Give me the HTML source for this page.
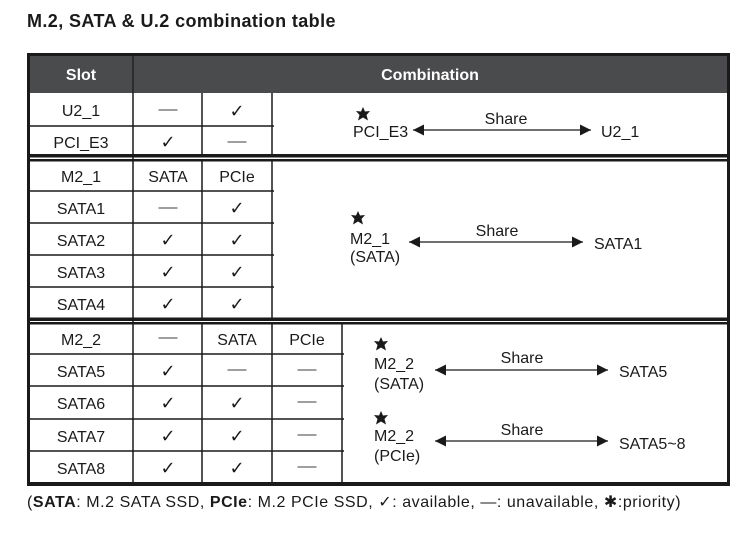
<!DOCTYPE html>
<html><head><meta charset="utf-8"><style>
html,body{margin:0;padding:0;background:#fff;width:738px;height:533px;overflow:hidden}
svg{display:block}
text{font-family:"Liberation Sans","DejaVu Sans",sans-serif;fill:#1a1a1a}
</style></head><body>
<svg width="738" height="533" viewBox="0 0 738 533" xmlns="http://www.w3.org/2000/svg">
<defs>
<marker id="ah" viewBox="0 0 10 10" refX="10" refY="5" markerWidth="17" markerHeight="11" markerUnits="userSpaceOnUse" orient="auto-start-reverse"><path d="M0,0 L10,5 L0,10 z" fill="#1a1a1a"/></marker>
<g id="dash"><line x1="-9.5" y1="0" x2="9.5" y2="0" stroke="#666" stroke-width="1.2"/></g>
<path id="star" d="M0,-7 L2,-2.5 L7,-3 L3.5,1 L5,6.5 L0,3.5 L-5,6.5 L-3.5,1 L-7,-3 L-2,-2.5 z" fill="#1a1a1a"/>
</defs>
<text x="27" y="27" font-size="18" font-weight="bold" letter-spacing="0.4">M.2, SATA &amp; U.2 combination table</text>
<rect x="27" y="53" width="703" height="40" fill="#4a4b4d"/>
<rect x="27" y="53" width="703" height="3" fill="#1a1a1a"/>
<line x1="133" y1="56" x2="133" y2="93" stroke="#222" stroke-width="1.5"/>
<text x="81" y="80" font-size="16" font-weight="bold" style="fill:#fff" text-anchor="middle">Slot</text>
<text x="430" y="80" font-size="16" font-weight="bold" style="fill:#fff" text-anchor="middle">Combination</text>
<rect x="27" y="53" width="3" height="433" fill="#1a1a1a"/>
<rect x="727" y="53" width="3" height="433" fill="#1a1a1a"/>
<rect x="27" y="482" width="703" height="4" fill="#1a1a1a"/>
<rect x="27" y="154" width="703" height="3.5" fill="#1a1a1a"/>
<rect x="27" y="159" width="703" height="2.5" fill="#1a1a1a"/>
<rect x="27" y="317.5" width="703" height="3.5" fill="#1a1a1a"/>
<rect x="27" y="322" width="703" height="2.5" fill="#1a1a1a"/>
<g stroke="#1a1a1a" stroke-width="1.5">
<line x1="133" y1="93" x2="133" y2="483"/>
<line x1="202" y1="93" x2="202" y2="155"/><line x1="272" y1="93" x2="272" y2="155"/>
<line x1="202" y1="161" x2="202" y2="318"/><line x1="272" y1="161" x2="272" y2="318"/>
<line x1="202" y1="324" x2="202" y2="483"/><line x1="272" y1="324" x2="272" y2="483"/><line x1="342" y1="324" x2="342" y2="483"/>
<line x1="30" y1="126" x2="274" y2="126"/>
<line x1="30" y1="191" x2="274" y2="191"/><line x1="30" y1="223" x2="274" y2="223"/><line x1="30" y1="255" x2="274" y2="255"/><line x1="30" y1="287" x2="274" y2="287"/>
<line x1="30" y1="354" x2="344" y2="354"/><line x1="30" y1="386" x2="344" y2="386"/><line x1="30" y1="419" x2="344" y2="419"/><line x1="30" y1="451" x2="344" y2="451"/>
</g>
<g font-size="16" text-anchor="middle">
<text x="81" y="116">U2_1</text><text x="81" y="148">PCI_E3</text>
<text x="81" y="182">M2_1</text><text x="168" y="182">SATA</text><text x="237" y="182">PCIe</text>
<text x="81" y="214">SATA1</text><text x="81" y="246">SATA2</text><text x="81" y="278">SATA3</text><text x="81" y="310">SATA4</text>
<text x="81" y="345">M2_2</text><text x="237" y="345">SATA</text><text x="307" y="345">PCIe</text>
<text x="81" y="377">SATA5</text><text x="81" y="409">SATA6</text><text x="81" y="442">SATA7</text><text x="81" y="474">SATA8</text>
</g>
<g font-size="18" text-anchor="middle" font-family="DejaVu Sans">
<text x="237" y="117">✓</text><text x="168" y="148">✓</text>
<text x="237" y="214">✓</text>
<text x="168" y="246">✓</text><text x="237" y="246">✓</text>
<text x="168" y="278">✓</text><text x="237" y="278">✓</text>
<text x="168" y="310">✓</text><text x="237" y="310">✓</text>
<text x="168" y="377">✓</text>
<text x="168" y="409">✓</text><text x="237" y="409">✓</text>
<text x="168" y="442">✓</text><text x="237" y="442">✓</text>
<text x="168" y="474">✓</text><text x="237" y="474">✓</text>
</g>
<use href="#dash" x="168" y="110"/><use href="#dash" x="237" y="142"/>
<use href="#dash" x="168" y="208"/>
<use href="#dash" x="168" y="338"/>
<use href="#dash" x="237" y="370"/><use href="#dash" x="307" y="370"/>
<use href="#dash" x="307" y="402"/><use href="#dash" x="307" y="435"/><use href="#dash" x="307" y="467"/>
<g font-size="16">
<use href="#star" x="363" y="114"/>
<text x="353" y="137">PCI_E3</text>
<text x="506" y="124" text-anchor="middle">Share</text>
<text x="601" y="137">U2_1</text>
<use href="#star" x="358" y="218"/>
<text x="350" y="244">M2_1</text><text x="350" y="262">(SATA)</text>
<text x="497" y="236" text-anchor="middle">Share</text>
<text x="594" y="249">SATA1</text>
<use href="#star" x="381" y="344"/>
<text x="374" y="369">M2_2</text><text x="374" y="389">(SATA)</text>
<text x="522" y="363" text-anchor="middle">Share</text>
<text x="619" y="377">SATA5</text>
<use href="#star" x="381" y="418"/>
<text x="374" y="441">M2_2</text><text x="374" y="461">(PCIe)</text>
<text x="522" y="435" text-anchor="middle">Share</text>
<text x="619" y="449">SATA5~8</text>
</g>
<g stroke="#1a1a1a" stroke-width="1.3">
<line x1="413" y1="130" x2="591" y2="130" marker-start="url(#ah)" marker-end="url(#ah)"/>
<line x1="409" y1="242" x2="583" y2="242" marker-start="url(#ah)" marker-end="url(#ah)"/>
<line x1="435" y1="370" x2="608" y2="370" marker-start="url(#ah)" marker-end="url(#ah)"/>
<line x1="435" y1="441" x2="608" y2="441" marker-start="url(#ah)" marker-end="url(#ah)"/>
</g>
<text x="27" y="507" font-size="16" letter-spacing="0.55">(<tspan font-weight="bold">SATA</tspan>: M.2 SATA SSD, <tspan font-weight="bold">PCIe</tspan>: M.2 PCIe SSD, <tspan font-family="DejaVu Sans">✓</tspan>: available, —: unavailable, <tspan font-family="DejaVu Sans">✱</tspan>:priority)</text>
</svg>
</body></html>
